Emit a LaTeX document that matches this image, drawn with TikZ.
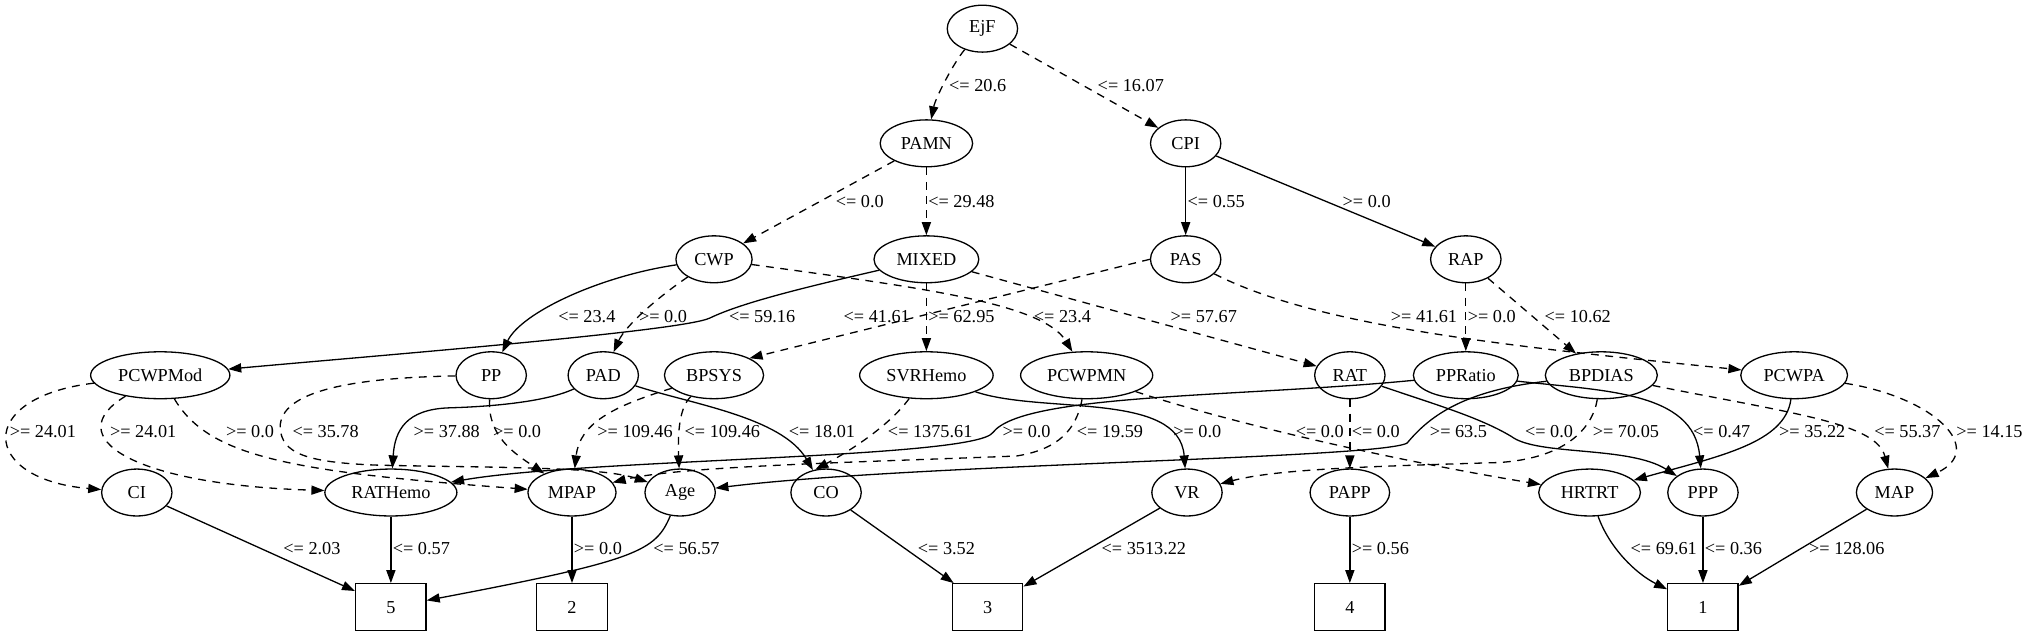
\documentclass[tikz,border=0pt]{standalone}
\usepackage{fontspec}
\setmainfont{Liberation Serif}
\usetikzlibrary{shapes.geometric,arrows.meta}

\tikzset{
  feat/.style={ellipse,draw,line width=1pt,minimum width=54pt,minimum height=36pt,
    inner xsep=5.5pt,inner ysep=3pt,font=\fontsize{14}{16}\selectfont},
  cls/.style={rectangle,draw,line width=1pt,minimum width=54pt,minimum height=36pt,
    font=\fontsize{14}{16}\selectfont},
  sedge/.style={line width=1pt,-{Triangle[length=10pt,width=7pt]}},
  dedge/.style={sedge,dash pattern=on 6pt off 5pt},
  thr/.style={anchor=west,inner sep=0pt,font=\fontsize{14}{16}\selectfont}
}

\begin{document}
\begin{tikzpicture}[x=1pt,y=-1pt]
  \path[use as bounding box,fill=white] (0,0) rectangle (1568,490);

  % tests
  \node[feat] (EjF) at (754,22) {EjF};
  \node[feat] (PAMN) at (711,110) {PAMN};
  \node[feat] (CPI) at (910,110) {CPI};
  \node[feat] (CWP) at (548,199) {CWP};
  \node[feat] (MIXED) at (711,199) {MIXED};
  \node[feat] (PAS) at (910,199) {PAS};
  \node[feat] (RAP) at (1125,199) {RAP};
  \node[feat] (PCWPMod) at (123,288) {PCWPMod};
  \node[feat] (PP) at (377,288) {PP};
  \node[feat] (PAD) at (463,288) {PAD};
  \node[feat] (BPSYS) at (548,288) {BPSYS};
  \node[feat] (SVRHemo) at (711,288) {SVRHemo};
  \node[feat] (PCWPMN) at (834,288) {PCWPMN};
  \node[feat] (RAT) at (1036,288) {RAT};
  \node[feat] (PPRatio) at (1125,288) {PPRatio};
  \node[feat] (BPDIAS) at (1229,288) {BPDIAS};
  \node[feat] (PCWPA) at (1377,288) {PCWPA};
  \node[feat] (CI) at (105,378) {CI};
  \node[feat] (RATHemo) at (300,378) {RATHemo};
  \node[feat] (MPAP) at (439,378) {MPAP};
  \node[feat] (Age) at (522,378) {Age};
  \node[feat] (CO) at (634,378) {CO};
  \node[feat] (VR) at (911,378) {VR};
  \node[feat] (PAPP) at (1036,378) {PAPP};
  \node[feat] (HRTRT) at (1220,378) {HRTRT};
  \node[feat] (PPP) at (1307,378) {PPP};
  \node[feat] (MAP) at (1454,378) {MAP};
  % classes
  \node[cls] (k5) at (300,466) {5};
  \node[cls] (k2) at (439,466) {2};
  \node[cls] (k3) at (758,466) {3};
  \node[cls] (k4) at (1036,466) {4};
  \node[cls] (k1) at (1307,466) {1};

  % rank 0 -> 1
  \draw[dedge] (EjF) .. controls (732,48) and (718,75) .. (PAMN) node[thr] (l01) at (728,66) {<= 20.6};
  \draw[dedge] (EjF) -- (CPI) node[thr] (l02) at (842,66) {<= 16.07};
  % rank 1 -> 2
  \draw[dedge] (PAMN) -- (CWP) node[thr] (l03) at (641,155) {<= 0.0};
  \draw[dedge] (PAMN) -- (MIXED) node[thr] (l04) at (712,155) {<= 29.48};
  \draw[sedge] (CPI) -- (PAS) node[thr] (l05) at (911,155) {<= 0.55};
  \draw[sedge] (CPI) -- (RAP) node[thr] (l06) at (1030,155) {>= 0.0};
  % rank 2 -> 3
  \draw[sedge] (CWP) .. controls (460,212) and (400,240) .. (PP) node[thr] (l07) at (428,243) {<= 23.4};
  \draw[dedge] (CWP) .. controls (505,228) and (480,250) .. (PAD) node[thr] (l08) at (490,243) {>= 0.0};
  \draw[dedge] (CWP) .. controls (700,220) and (800,232) .. (PCWPMN) node[thr] (l09) at (793,243) {<= 23.4};
  \draw[sedge] (MIXED) .. controls (620,220) and (570,232) .. (545,244) .. controls (525,254) and (300,272) .. (PCWPMod) node[thr] (l10) at (559,243) {<= 59.16};
  \draw[dedge] (MIXED) -- (SVRHemo) node[thr] (l11) at (712,243) {>= 62.95};
  \draw[dedge] (MIXED) -- (RAT) node[thr] (l12) at (898,243) {>= 57.67};
  \draw[dedge] (PAS.west) -- (BPSYS.north east) node[thr] (l13) at (647,243) {<= 41.61};
  \draw[dedge] (PAS) .. controls (1010,250) and (1150,265) .. (PCWPA) node[thr] (l14) at (1067,243) {>= 41.61};
  \draw[dedge] (RAP) -- (PPRatio) node[thr] (l15) at (1126,243) {>= 0.0};
  \draw[dedge] (RAP) -- (BPDIAS) node[thr] (l16) at (1185,243) {<= 10.62};
  % rank 3 -> 4
  \draw[dedge] (PCWPMod) .. controls (-20,305) and (-15,368) .. (CI) node[thr] (l17) at (7,331) {>= 24.01};
  \draw[dedge] (PCWPMod) .. controls (45,335) and (100,372) .. (RATHemo) node[thr] (l18) at (84,331) {>= 24.01};
  \draw[dedge] (PCWPMod) .. controls (160,350) and (220,362) .. (MPAP) node[thr] (l19) at (173,331) {>= 0.0};
  \draw[dedge] (PP) .. controls (270,290) and (215,300) .. (215,328) .. controls (216,348) and (235,355) .. (290,357) .. controls (380,359) and (460,358) .. (Age) node[thr] (l20) at (224,331) {<= 35.78};
  \draw[sedge] (PAD) .. controls (420,308) and (380,312) .. (345,313) .. controls (312,314) and (303,330) .. (RATHemo) node[thr] (l21) at (317,331) {>= 37.88};
  \draw[dedge] (PP) .. controls (374,335) and (395,348) .. (MPAP) node[thr] (l22) at (378,331) {>= 0.0};
  \draw[dedge] (BPSYS) .. controls (470,312) and (445,325) .. (MPAP) node[thr] (l23) at (458,331) {>= 109.46};
  \draw[dedge] (BPSYS) .. controls (522,312) and (520,330) .. (Age) node[thr] (l24) at (525,331) {<= 109.46};
  \draw[sedge] (PAD) .. controls (530,310) and (600,320) .. (CO) node[thr] (l25) at (605,331) {<= 18.01};
  \draw[dedge] (SVRHemo) .. controls (680,330) and (645,350) .. (CO.115) node[thr] (l26) at (681,331) {<= 1375.61};
  \draw[sedge] (PPRatio) .. controls (950,305) and (785,302) .. (762,332) .. controls (748,352) and (450,352) .. (RATHemo) node[thr] (l27) at (769,331) {>= 0.0};
  \draw[dedge] (PCWPMN) .. controls (826,330) and (812,345) .. (780,350) .. controls (650,355) and (520,358) .. (MPAP) node[thr] (l28) at (826,331) {<= 19.59};
  \draw[sedge] (SVRHemo) .. controls (800,318) and (905,300) .. (VR) node[thr] (l29) at (900,331) {>= 0.0};
  \draw[dedge] (PCWPMN) .. controls (930,320) and (1050,350) .. (HRTRT) node[thr] (l30) at (994,331) {<= 0.0};
  \draw[dedge] (RAT) -- (PAPP) node[thr] (l31) at (1037,331) {<= 0.0};
  \draw[sedge] (BPDIAS) .. controls (1120,300) and (1095,322) .. (1080,340) .. controls (1060,352) and (700,356) .. (Age) node[thr] (l32) at (1097,331) {>= 63.5};
  \draw[sedge] (RAT) .. controls (1100,310) and (1135,320) .. (1160,335) .. controls (1180,350) and (1250,342) .. (PPP) node[thr] (l33) at (1170,331) {<= 0.0};
  \draw[dedge] (BPDIAS) .. controls (1222,330) and (1200,352) .. (1150,355) .. controls (1050,358) and (980,360) .. (VR) node[thr] (l34) at (1222,331) {>= 70.05};
  \draw[sedge] (PPRatio) .. controls (1230,300) and (1300,300) .. (PPP) node[thr] (l35) at (1299,331) {<= 0.47};
  \draw[sedge] (PCWPA) .. controls (1370,340) and (1320,350) .. (HRTRT) node[thr] (l36) at (1365,331) {>= 35.22};
  \draw[dedge] (BPDIAS) .. controls (1380,318) and (1440,325) .. (MAP) node[thr] (l37) at (1438,331) {<= 55.37};
  \draw[dedge] (PCWPA) .. controls (1485,305) and (1525,345) .. (MAP) node[thr] (l38) at (1501,331) {>= 14.15};
  % rank 4 -> classes
  \draw[sedge] (CI) -- (k5) node[thr] (l39) at (217,421) {<= 2.03};
  \draw[sedge] (RATHemo) -- (k5) node[thr] (l40) at (301,421) {<= 0.57};
  \draw[sedge] (Age) .. controls (503,423) and (490,430) .. (k5) node[thr] (l41) at (501,421) {<= 56.57};
  \draw[sedge] (MPAP) -- (k2) node[thr] (l42) at (440,421) {>= 0.0};
  \draw[sedge] (CO) -- (k3) node[thr] (l43) at (704,421) {<= 3.52};
  \draw[sedge] (VR) -- (k3) node[thr] (l44) at (845,421) {<= 3513.22};
  \draw[sedge] (PAPP) -- (k4) node[thr] (l45) at (1037,421) {>= 0.56};
  \draw[sedge] (HRTRT) .. controls (1235,420) and (1255,440) .. (k1) node[thr] (l46) at (1251,421) {<= 69.61};
  \draw[sedge] (PPP) -- (k1) node[thr] (l47) at (1308,421) {<= 0.36};
  \draw[sedge] (MAP) -- (k1) node[thr] (l48) at (1388,421) {>= 128.06};
\end{tikzpicture}
\end{document}
